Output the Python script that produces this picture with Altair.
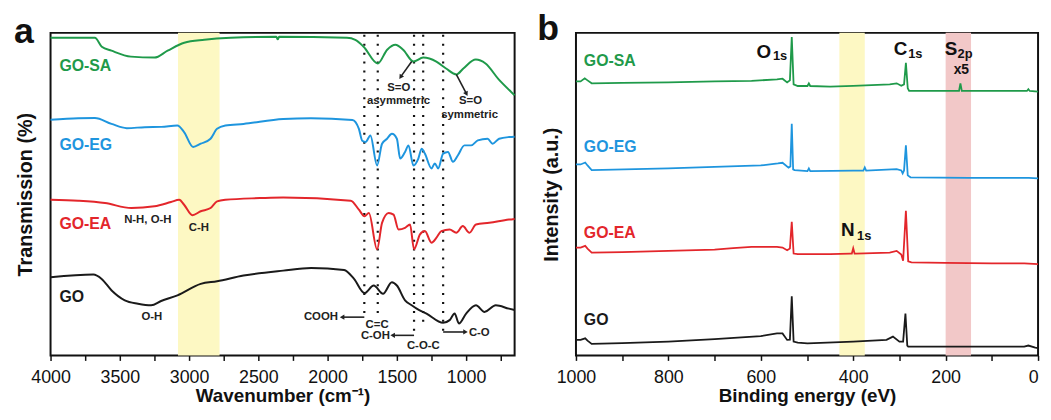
import altair as alt
import pandas as pd

FONT = "Liberation Sans"
H = 326

# ---------------- Panel a : FTIR ----------------
wn_go = [4000, 3691, 3631, 3559, 3464, 3369, 3274, 3202, 3084, 2916, 2798, 2607, 2321, 2119, 1881, 1809, 1734,
         1667, 1600, 1536, 1500, 1441, 1393, 1357, 1286, 1166, 1119, 1083, 1052, 1000, 929, 867, 786, 691, 650]
t_go = [79, 81.7, 77.3, 65.7, 55.7, 52.3, 50.7, 55, 60.7, 72.3, 75, 80.7, 85.7, 88.3, 86.3, 77.3, 63,
        70.7, 62.3, 74, 70.7, 55.7, 50.7, 47.3, 42.3, 33, 35.7, 42.3, 32.3, 42.3, 50.7, 44, 50.7, 47.3, 46]

wn_ea = [4000, 3800, 3607, 3416, 3250, 3131, 3071, 3036, 2976, 2916, 2845, 2798, 2738, 2488, 2321, 1833, 1774,
         1734, 1702, 1643, 1607, 1559, 1524, 1488, 1441, 1405, 1376, 1333, 1298, 1250, 1214, 1179, 1119, 1071,
         1024, 976, 929, 833, 691, 650]
t_ea = [157.3, 156.3, 154, 149, 150.7, 155, 157.3, 152.3, 141.7, 145.7, 149, 155.7, 157.3, 159, 159.7, 156.3, 147.3,
        140.7, 144, 107.3, 134, 144, 142.3, 127.3, 129, 132.3, 107.3, 122.3, 125.7, 114, 119, 125.7, 127.3, 124,
        130.7, 124, 132.3, 134, 137.3, 138]

wn_eg = [4000, 3800, 3680, 3560, 3450, 3320, 3200, 3085, 3036, 2971, 2916, 2845, 2798, 2738, 2607, 2320, 2120,
         1821, 1774, 1750, 1726, 1691, 1643, 1607, 1571, 1536, 1500, 1476, 1441, 1416, 1381, 1345, 1321, 1298,
         1250, 1226, 1202, 1166, 1131, 1095, 1059, 1012, 964, 916, 845, 809, 762, 691, 650]
t_eg = [238.3, 239.7, 240, 234, 229.7, 230.7, 231, 232.3, 225.7, 210.7, 214, 219, 229, 232.3, 234, 239, 239.7,
        238, 229, 217, 215.7, 222.3, 192, 214, 219, 224, 219, 199, 205.7, 212.3, 192, 199, 209, 204,
        189, 194, 189, 204, 205.7, 195.7, 202.3, 212.3, 212.3, 217.3, 219, 214, 219, 220.7, 221]

wn_sa = [4000, 3680, 3630, 3560, 3420, 3250, 3155, 3035, 2890, 2700, 2370, 2360, 2350, 1860, 1800, 1740, 1638,
         1570, 1510, 1455, 1380, 1310, 1215, 1145, 1070, 1020, 930, 860, 765, 680, 650]
t_sa = [321, 321, 312, 308, 302, 301, 308, 316, 319, 321, 322, 319.5, 322, 321, 319, 312, 295,
        309, 314, 309, 297, 301, 297, 290, 284, 290, 299, 295, 279, 267, 263]

series_a = ["GO", "GO-EA", "GO-EG", "GO-SA"]
colors_a = ["#1a1a1a", "#e3262b", "#1e95de", "#1f9a4a"]

band_a = [3080, 2780]

dot_wn = [1735, 1638, 1376, 1310, 1166]
dot_top = [324, 324, 324, 324, 324]
dot_bottom = [39, 42, 21, 32, 24]

lab_a_text = ["GO-SA", "GO-EG", "GO-EA", "GO"]
lab_a_wn = [3936, 3936, 3936, 3936]
lab_a_v = [292.3, 212.3, 132.3, 59]

ann_text = ["S=O", "asymmetric", "S=O", "symmetric", "COOH", "C=C", "C-OH", "C-O-C", "C-O", "O-H", "N-H, O-H", "C-H"]
ann_wn = [1486, 1488, 968, 975, 2048, 1643, 1655, 1309, 905, 3269, 3298, 2929]
ann_v = [270.5, 257.5, 257, 243, 38.7, 30.5, 19.5, 9.5, 22.7, 39, 137.3, 129]

arr_wn1 = [1393, 1071, 1735, 1376, 1166]
arr_v1 = [297, 284, 38.7, 20.3, 23.7]
arr_wn2 = [1470, 1000, 1890, 1525, 1010]
arr_v2 = [282, 265, 38.7, 20.3, 23.7]
arr_ang = [213.7, 152.4, 270, 270, 90]

# ---------------- Panel b : XPS ----------------
ev_go = [1000, 990, 980, 975, 966, 900, 800, 700, 600, 565, 553, 543, 537, 533, 529, 520, 499, 400, 328, 314,
         300, 292, 287, 283, 281, 200, 100, 30, 21, 6, 0]
i_go = [15.7, 15.7, 17.3, 15, 11.7, 12.5, 14, 16.5, 19.5, 22.3, 22.3, 15.7, 16, 59.7, 14, 13, 12.3, 14, 15.7, 19,
        14, 14, 42.3, 10, 9, 9, 9, 9, 10, 8, 7.3]

ev_ea = [1000, 990, 980, 975, 966, 900, 800, 700, 660, 620, 565, 553, 543, 537, 533, 529, 520, 499, 450, 406,
         403, 400, 397, 394, 321, 306, 296, 292, 286, 281, 274, 200, 100, 30, 0]
i_ea = [109, 109, 110.7, 108, 104, 104.5, 105.7, 107, 108.5, 109.7, 109.7, 109, 106.3, 108, 135, 103, 102.3, 102.3,
        102.5, 103, 103, 108.3, 103, 103, 104, 105.7, 102, 95.7, 146.3, 95, 94, 93.5, 93, 93, 92.3]

ev_eg = [1000, 990, 980, 975, 966, 800, 700, 600, 563, 553, 540, 536, 533, 530, 527, 499, 496, 493, 400, 378,
         375, 372, 306, 296, 293, 290, 286, 282, 276, 150, 20, 0]
i_eg = [193, 193, 195, 192, 187.3, 189, 190.5, 192, 194, 194.7, 189.7, 191, 234, 188, 187.3, 186.3, 189, 186.3,
        186.8, 186.8, 190, 186.8, 188.3, 187, 184, 187, 212.3, 182, 180, 179.5, 179.5, 179]

ev_sa = [1000, 990, 981, 975, 966, 900, 800, 700, 620, 565, 553, 543, 537, 533, 529, 520, 499, 496, 493, 450,
         400, 321, 306, 296, 290, 286, 282, 279, 250, 171, 168, 165, 100, 24, 21, 18, 0]
i_sa = [277, 277, 280, 278, 275, 275.5, 276, 277, 277.5, 279, 279.7, 276, 278, 321.7, 274, 272.3, 272.3, 275,
        272.3, 271.7, 272.5, 274, 275, 272.5, 274, 295.7, 270, 267.3, 267.3, 267.3, 275, 267.3, 267.3, 267.3,
        269, 267.3, 266.7]

colors_b = ["#1a1a1a", "#f01818", "#1e95de", "#1f9a4a"]

band_b_yellow = [430, 375]
band_b_pink = [200, 145]

lab_b_text = ["GO-SA", "GO-EG", "GO-EA", "GO"]
lab_b_ev = [983, 983, 983, 983]
lab_b_v = [297.3, 210.7, 124, 35.7]

pk_main = ["O", "C", "S", "N"]
pk_main_ev = [593.5, 297.6, 188.4, 411.5]
pk_main_v = [300.7, 304, 304, 120.7]
pk_sub = ["1s", "1s", "2p", "1s"]
pk_sub_ev = [573.8, 281.1, 174.1, 391.8]
pk_sub_v = [298.5, 301, 301, 116.5]
x5_ev = [166]
x5_v = [284]


def long_df(names, xs_list, ys_list, xname, yname):
    rows = []
    for n, xs, ys in zip(names, xs_list, ys_list):
        for x, y in zip(xs, ys):
            rows.append({xname: x, yname: y, "series": n})
    return pd.DataFrame(rows)


# ---------- Panel a chart ----------
XA_SCALE = alt.Scale(domain=[4000, 650], nice=False, zero=False)
XA_AXIS = alt.Axis(values=list(range(4000, 649, -250)), format="d", labelFlush=False,
                   labelExpr="datum.value % 500 === 0 ? datum.label : ''",
                   title="Wavenumber (cm\u207b\u00b9)")
YA_SCALE = alt.Scale(domain=[0, H], nice=False, zero=False)
YA_AXIS = alt.Axis(title="Transmission (%)", labels=False, ticks=False, domain=False, grid=False,
                   titlePadding=15)


def XA(f):
    return alt.X(f, type="quantitative", scale=XA_SCALE, axis=XA_AXIS, title="Wavenumber (cm\u207b\u00b9)")


def YA(f):
    return alt.Y(f, type="quantitative", scale=YA_SCALE, axis=YA_AXIS, title="Transmission (%)")


band_a_df = pd.DataFrame({"wn": [band_a[0]], "wn2": [band_a[1]], "v": [0], "v2": [H]})
band_a_layer = alt.Chart(band_a_df).mark_rect(color="#fdf8c3").encode(
    x=XA("wn"), x2="wn2", y=YA("v"), y2="v2")

dots_df = pd.DataFrame({"wn": dot_wn, "v": dot_top, "v2": dot_bottom})
dots_layer = alt.Chart(dots_df).mark_rule(color="#111", strokeWidth=2.2, strokeDash=[2, 7]).encode(
    x=XA("wn"), y=YA("v"), y2="v2")

ftir_df = long_df(series_a, [wn_go, wn_ea, wn_eg, wn_sa], [t_go, t_ea, t_eg, t_sa], "wn", "v")
ftir_layer = alt.Chart(ftir_df).mark_line(strokeWidth=2, interpolate="monotone").encode(
    x=XA("wn"), y=YA("v"),
    color=alt.Color("series:N", scale=alt.Scale(domain=series_a, range=colors_a), legend=None))

laba_df = pd.DataFrame({"wn": lab_a_wn, "v": lab_a_v, "t": lab_a_text,
                        "c": [colors_a[3], colors_a[2], colors_a[1], colors_a[0]]})
laba_layer = alt.Chart(laba_df).mark_text(font=FONT, fontSize=16, fontWeight="bold", align="left",
                                          baseline="middle").encode(
    x=XA("wn"), y=YA("v"), text="t:N", color=alt.Color("c:N", scale=None))

ann_df = pd.DataFrame({"wn": ann_wn, "v": ann_v, "t": ann_text})
ann_layer = alt.Chart(ann_df).mark_text(font=FONT, fontSize=11.5, fontWeight="bold", color="#222",
                                        align="center", baseline="middle").encode(
    x=XA("wn"), y=YA("v"), text="t:N")

arr_df = pd.DataFrame({"wn": arr_wn1, "v": arr_v1, "wn2": arr_wn2, "v2": arr_v2, "ang": arr_ang})
arr_rule = alt.Chart(arr_df).mark_rule(color="#222", strokeWidth=1.6).encode(
    x=XA("wn"), y=YA("v"), x2="wn2", y2="v2")
arr_head = alt.Chart(arr_df).mark_point(shape="triangle", filled=True, color="#222", size=28, opacity=1).encode(
    x=XA("wn2"), y=YA("v2"), angle=alt.Angle("ang:Q", scale=None))

letter_a = alt.Chart(pd.DataFrame({"t": ["a"]})).mark_text(
    font=FONT, fontSize=36, fontWeight="bold", color="#111", align="left", baseline="alphabetic").encode(
    x=alt.value(-37), y=alt.value(10), text="t:N")

panel_a = alt.layer(band_a_layer, dots_layer, ftir_layer, laba_layer, ann_layer, arr_rule, arr_head,
                    letter_a).properties(width=469, height=H)

# ---------- Panel b chart ----------
XB_SCALE = alt.Scale(domain=[1000, 0], nice=False, zero=False)
XB_AXIS = alt.Axis(values=list(range(1000, -1, -100)), format="d", labelFlush=False,
                   labelExpr="datum.value % 200 === 0 ? datum.label : ''",
                   labelAlign={"condition": {"test": "datum.value === 0", "value": "right"}, "value": "center"},
                   title="Binding energy (eV)")
YB_AXIS = alt.Axis(title="Intensity (a.u.)", labels=False, ticks=False, domain=False, grid=False,
                   titlePadding=15)


def XB(f):
    return alt.X(f, type="quantitative", scale=XB_SCALE, axis=XB_AXIS, title="Binding energy (eV)")


def YB(f):
    return alt.Y(f, type="quantitative", scale=YA_SCALE, axis=YB_AXIS, title="Intensity (a.u.)")


bands_b_df = pd.DataFrame({"ev": [band_b_yellow[0], band_b_pink[0]], "ev2": [band_b_yellow[1], band_b_pink[1]],
                           "v": [0, 0], "v2": [H, H], "c": ["#fdf8c3", "#f2c8c8"]})
bands_b_layer = alt.Chart(bands_b_df).mark_rect().encode(
    x=XB("ev"), x2="ev2", y=YB("v"), y2="v2", color=alt.Color("c:N", scale=None))

xps_df = long_df(series_a, [ev_go, ev_ea, ev_eg, ev_sa], [i_go, i_ea, i_eg, i_sa], "ev", "v")
xps_layer = alt.Chart(xps_df).mark_line(strokeWidth=1.8).encode(
    x=XB("ev"), y=YB("v"),
    color=alt.Color("series:N", scale=alt.Scale(domain=series_a, range=colors_b), legend=None))

labb_df = pd.DataFrame({"ev": lab_b_ev, "v": lab_b_v, "t": lab_b_text,
                        "c": [colors_b[3], colors_b[2], "#e3262b", colors_b[0]]})
labb_layer = alt.Chart(labb_df).mark_text(font=FONT, fontSize=16, fontWeight="bold", align="left",
                                          baseline="middle").encode(
    x=XB("ev"), y=YB("v"), text="t:N", color=alt.Color("c:N", scale=None))

pk_main_layer = alt.Chart(pd.DataFrame({"ev": pk_main_ev, "v": pk_main_v, "t": pk_main})).mark_text(
    font=FONT, fontSize=19, fontWeight="bold", color="#111", align="center", baseline="alphabetic").encode(
    x=XB("ev"), y=YB("v"), text="t:N")
pk_sub_layer = alt.Chart(pd.DataFrame({"ev": pk_sub_ev, "v": pk_sub_v, "t": pk_sub})).mark_text(
    font=FONT, fontSize=13, fontWeight="bold", color="#111", align="left", baseline="alphabetic").encode(
    x=XB("ev"), y=YB("v"), text="t:N")
x5_layer = alt.Chart(pd.DataFrame({"ev": x5_ev, "v": x5_v, "t": ["x5"]})).mark_text(
    font=FONT, fontSize=14, fontWeight="bold", color="#111", align="center", baseline="alphabetic").encode(
    x=XB("ev"), y=YB("v"), text="t:N")

letter_b = alt.Chart(pd.DataFrame({"t": ["b"]})).mark_text(
    font=FONT, fontSize=36, fontWeight="bold", color="#111", align="left", baseline="alphabetic").encode(
    x=alt.value(-39), y=alt.value(7), text="t:N")

panel_b = alt.layer(bands_b_layer, xps_layer, labb_layer, pk_main_layer, pk_sub_layer, x5_layer,
                    letter_b).properties(width=467, height=H)

chart = alt.hconcat(panel_a, panel_b, spacing=17).properties(
    padding={"left": 5, "top": 0, "right": 0, "bottom": 0}
).configure_view(stroke="#111", strokeWidth=2).configure_axis(
    labelFont=FONT, labelFontSize=18, labelColor="#111", labelPadding=8,
    tickColor="#111", tickWidth=1.5, tickSize=5, domain=False, grid=False,
    titleFont=FONT, titleFontSize=19, titleFontWeight="bold", titleColor="#111", titlePadding=1
).configure_axisY(titleFontSize=20, titlePadding=15)

chart.save("out.html", embed_options={"renderer": "svg", "actions": False})
